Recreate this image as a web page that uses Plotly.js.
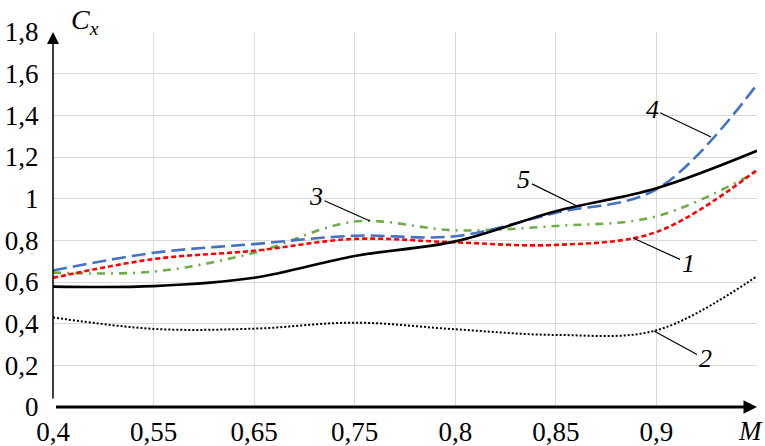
<!DOCTYPE html>
<html>
<head>
<meta charset="utf-8">
<script src="https://cdn.plot.ly/plotly-3.0.1.min.js"></script>
<style>html,body{margin:0;padding:0;background:#fff;}#chart{width:765px;height:446px;}</style>
</head>
<body>
<div id="chart"></div>
<script>
// Mach number categories (evenly spaced on the axis)
const machCats = ['0,4','0,55','0,65','0,75','0,8','0,85','0,9','0,95'];
const machTickText = ['0,4','0,55','0,65','0,75','0,8','0,85','0,9',''];
const yTickVals = [0,0.2,0.4,0.6,0.8,1,1.2,1.4,1.6,1.8];
const yTickText = ['0','0,2','0,4','0,6','0,8','1','1,2','1,4','1,6','1,8'];

// Cx values per curve
const curve1 = [0.62, 0.71, 0.75, 0.807, 0.79, 0.778, 0.84, 1.138];   // red short dash
const curve2 = [0.43, 0.375, 0.376, 0.405, 0.373, 0.346, 0.368, 0.628]; // black dotted
const curve3 = [0.645, 0.65, 0.74, 0.89, 0.848, 0.869, 0.915, 1.13];  // green dash-dot
const curve4 = [0.655, 0.74, 0.782, 0.822, 0.82, 0.932, 1.045, 1.548]; // blue dashed
const curve5 = [0.578, 0.58, 0.62, 0.725, 0.795, 0.94, 1.05, 1.23];   // black solid

const serif = "'Liberation Serif', 'Times New Roman', Times, serif";

function tr(y, color, dash, width) {
  return {x: machCats, y: y, type: 'scatter', mode: 'lines',
    line: {color: color, dash: dash, width: width, shape: 'spline', smoothing: 1},
    hoverinfo: 'skip', showlegend: false};
}

const data = [
  tr(curve2, '#000000', '2px,2px', 2),
  tr(curve3, '#70AD47', '8px,6px,2px,6px', 2.6),
  tr(curve1, '#FF0000', '5px,3px', 2.6),
  tr(curve4, '#4472C4', '14px,6px', 2.6),
  tr(curve5, '#000000', 'solid', 2.6)
];

function lbl(text, x, y, ax, ay) {
  return {text: '<i>' + text + '</i>', x: x, y: y, xref: 'x', yref: 'y', ax: ax, ay: ay,
    showarrow: true, arrowhead: 0, arrowwidth: 1.2, arrowcolor: '#000', standoff: 0,
    font: {family: serif, size: 26, color: '#000'}};
}

const layout = {
  width: 765, height: 446,
  margin: {l: 53, r: 8, t: 32, b: 39, pad: 0},
  paper_bgcolor: '#fff', plot_bgcolor: '#fff',
  font: {family: serif, color: '#000'},
  showlegend: false,
  xaxis: {type: 'category', categoryarray: machCats, range: [0, 7],
    tickmode: 'array', tickvals: machCats, ticktext: machTickText,
    showgrid: true, gridcolor: '#d9d9d9', gridwidth: 1, zeroline: false, showline: false,
    ticks: '', ticklabelstandoff: 6,
    tickfont: {family: serif, size: 27, color: '#000'}, fixedrange: true},
  yaxis: {range: [0, 1.8], tickmode: 'array', tickvals: yTickVals, ticktext: yTickText,
    showgrid: true, gridcolor: '#d9d9d9', gridwidth: 1, zeroline: false, showline: false,
    ticks: 'outside', ticklen: 8, tickcolor: 'rgba(0,0,0,0)',
    tickfont: {family: serif, size: 27, color: '#000'}, fixedrange: true},
  annotations: [
    // x axis with arrow
    {x: 7, y: 0, xref: 'x', yref: 'y', ax: -704, ay: 0, text: ' ', showarrow: true,
      arrowhead: 2, arrowsize: 0.9, arrowwidth: 3, arrowcolor: '#000', standoff: 0},
    // y axis with arrow
    {x: 0, y: 1.8, xref: 'x', yref: 'y', ax: 0, ay: 375, text: ' ', showarrow: true,
      arrowhead: 2, arrowsize: 1.6, arrowwidth: 1.5, arrowcolor: '#000', standoff: 0},
    {text: '<i>C<sub>x</sub></i>', xref: 'paper', yref: 'paper', x: 0.0455, y: 1.027,
      xanchor: 'center', yanchor: 'middle', showarrow: false, bgcolor: '#fff', borderpad: 7,
      font: {family: serif, size: 28, color: '#000'}},
    {text: '<i>M</i>', xref: 'paper', yref: 'paper', x: 1.011, y: -0.063,
      xanchor: 'right', yanchor: 'middle', showarrow: false,
      font: {family: serif, size: 27, color: '#000'}},
    lbl('3', 3.152, 0.893, -54, -24),
    lbl('4', 6.543, 1.296, -59, -28),
    lbl('5', 5.21, 0.965, -53, -26),
    lbl('1', 5.767, 0.811, 55, 25),
    lbl('2', 5.976, 0.365, 51, 28)
  ]
};

Plotly.newPlot('chart', data, layout, {staticPlot: true, displayModeBar: false});
</script>
</body>
</html>
